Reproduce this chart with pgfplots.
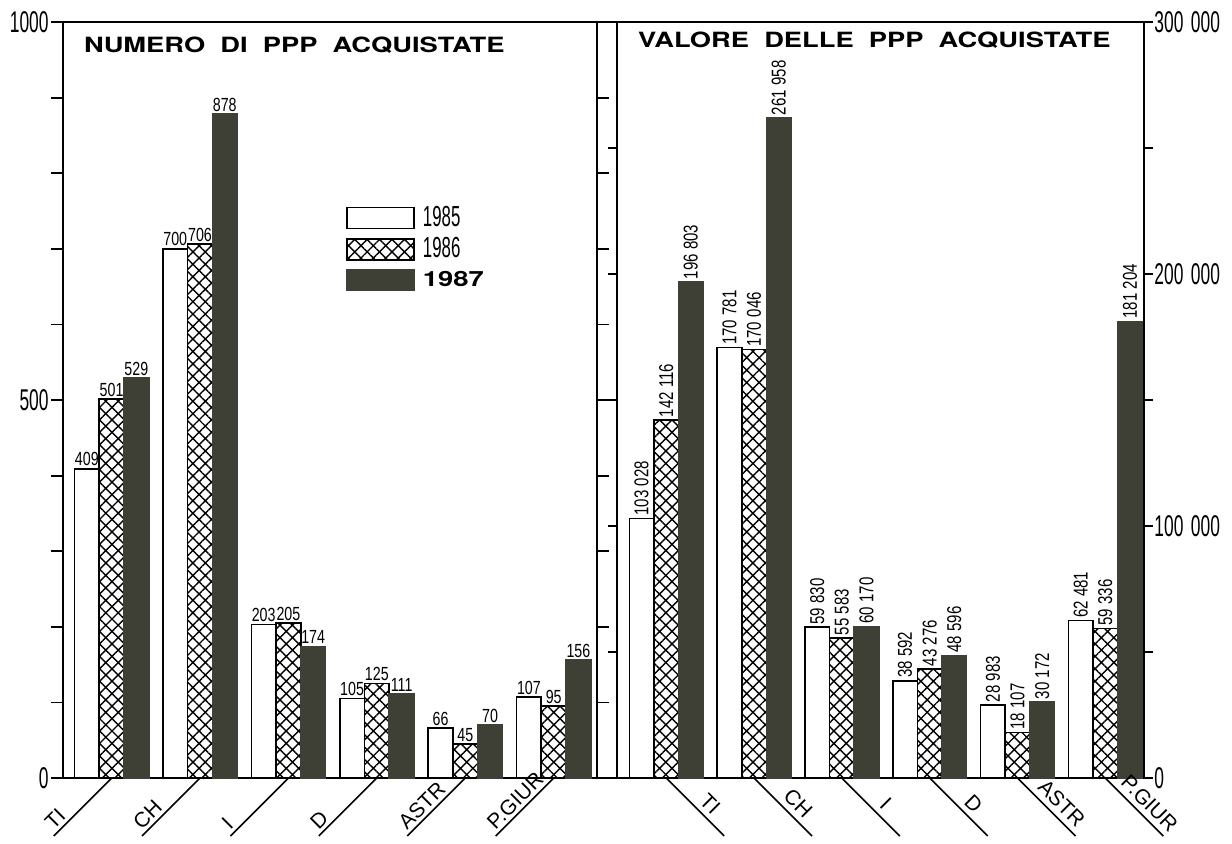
\documentclass[border=0pt]{standalone}
\usepackage{fontspec}
\usepackage{pgfplots}
\pgfplotsset{compat=1.18}
\usetikzlibrary{patterns.meta}
\setmainfont{Liberation Sans}
\newfontfamily\condfam[FakeStretch=0.58]{Liberation Sans}
\newfontfamily\valfam[FakeStretch=0.75]{Liberation Sans}
\newfontfamily\titlefam[FakeStretch=1.3,WordSpace=2]{TeX Gyre Heros}
\newcommand\tickfont{\condfam\fontsize{15}{15}\selectfont}
\newcommand\legfont{\condfam\fontsize{14.5}{14.5}\selectfont}
\newcommand\valfont{\valfam\fontsize{9.5}{10}\selectfont}
\newcommand\valfontR{\valfam\fontsize{10}{11}\selectfont}
\newcommand\titlefont{\titlefam\bfseries\fontsize{10.5}{12}\selectfont}
\newcommand\catfont{\fontsize{10.5}{12}\selectfont}
\definecolor{darkbar}{RGB}{62,64,54}

\tikzset{
  catL/.style={line width=0.8pt},
  catLn/.style={pos=1, rotate=45, anchor=south west, inner sep=1.5pt, font=\catfont},
  catRn/.style={pos=0.6, rotate=-45, anchor=south, inner sep=2.5pt, font=\catfont},
}

\pgfplotsset{
  /pgf/number format/assume math mode=true,
  mylegend/.style={legend image code/.code={\draw[##1] (0pt,-5.25pt) rectangle (33.5pt,5.25pt);}},
  s85/.style={fill=white, draw=black, line width=0.8pt, mylegend},
  s86/.style={pattern={Hatch[angle=45,distance=4.4pt,line width=0.7pt]}, draw=black, line width=0.8pt, mylegend},
  s87/.style={fill=darkbar, draw=darkbar, line width=0.8pt, mylegend},
  panel/.style={
    scale only axis, height=378pt, ymin=0, ybar=0pt, bar width=0.28, clip=false,
    axis line style={line width=0.9pt},
    xtick={0,...,5}, xticklabels={},
    xtick style={draw=none},
    ytick align=outside, ytick pos=both,
    major tick length=6pt, minor tick length=6pt,
    ytick style={line width=0.9pt, black},
    minor y tick style={line width=0.9pt, black},
    yticklabel style={font=\tickfont, inner sep=1pt},
    scaled y ticks=false,
    /pgf/number format/fixed,
  },
}

\begin{document}
\begin{tikzpicture}
\useasboundingbox (-31.5pt,-32.5pt) rectangle (584.5pt,389pt);

% ---------- left panel ----------
\begin{axis}[panel, at={(0pt,0pt)}, anchor=south west, width=267pt,
  xmin=-0.55, xmax=5.49, ymax=1000,
  ytick={0,500,1000}, minor ytick={100,200,300,400,600,700,800,900},
  yticklabel pos=left,
  /pgf/number format/1000 sep={},
  nodes near coords,
  every node near coord/.append style={font=\valfont, inner sep=1pt},
  legend style={at={(rel axis cs:0.5187,0.762)}, anchor=north west, draw=none, fill=none,
    row sep=4pt, nodes={inner sep=0pt}, /tikz/every odd column/.append style={column sep=4pt}},
  legend cell align=left,
]
\addplot[s85] coordinates {(0,409) (1,700) (2,203) (3,105) (4,66) (5,107)};
\addlegendentry{\legfont 1985}
\addplot[s86] coordinates {(0,501) (1,706) (2,205) (3,125) (4,45) (5,95)};
\addlegendentry{\legfont 1986}
\addplot[s87] coordinates {(0,529) (1,878) (2,174) (3,111) (4,70) (5,156)};
\addlegendentry{\titlefont 1987}
\draw[catL] (axis cs:0,0) -- ++(-135:41pt) node[catLn] {TI};
\draw[catL] (axis cs:1,0) -- ++(-135:41pt) node[catLn] {CH};
\draw[catL] (axis cs:2,0) -- ++(-135:41pt) node[catLn] {I};
\draw[catL] (axis cs:3,0) -- ++(-135:41pt) node[catLn] {D};
\draw[catL] (axis cs:4,0) -- ++(-135:41pt) node[catLn] {ASTR};
\draw[catL] (axis cs:5,0) -- ++(-135:41pt) node[catLn] {P.GIUR};
\node[anchor=base west, font=\titlefont] at ([xshift=7pt,yshift=-15pt]rel axis cs:0,1) {NUMERO DI PPP ACQUISTATE};
\end{axis}

% ---------- right panel ----------
\begin{axis}[panel, at={(277pt,0pt)}, anchor=south west, width=263.5pt,
  xmin=-0.56, xmax=5.44, ymax=300000,
  ytick={0,100000,200000,300000}, minor ytick={50000,150000,250000},
  yticklabel pos=right,
  major tick length=4.5pt, minor tick length=4.5pt,
  yticklabel style={inner sep=0.5pt},
  /pgf/number format/1000 sep={\hspace{0.25em}},
  nodes near coords={\pgfmathprintnumber[fixed,1000 sep={\hspace{0.22em}}]{\pgfplotspointmeta}},
  every node near coord/.append style={font=\valfontR, inner sep=1pt, rotate=90, anchor=west},
]
\addplot[s85] coordinates {(0,103028) (1,170781) (2,59830) (3,38592) (4,28983) (5,62481)};
\addplot[s86] coordinates {(0,142116) (1,170046) (2,55583) (3,43276) (4,18107) (5,59336)};
\addplot[s87] coordinates {(0,196803) (1,261958) (2,60170) (3,48596) (4,30172) (5,181204)};
\draw[catL] (axis cs:0,0) -- ++(-45:41pt) node[catRn] {TI};
\draw[catL] (axis cs:1,0) -- ++(-45:41pt) node[catRn] {CH};
\draw[catL] (axis cs:2,0) -- ++(-45:41pt) node[catRn] {I};
\draw[catL] (axis cs:3,0) -- ++(-45:41pt) node[catRn] {D};
\draw[catL] (axis cs:4,0) -- ++(-45:41pt) node[catRn] {ASTR};
\draw[catL] (axis cs:5,0) -- ++(-45:41pt) node[catRn] {P.GIUR};
\node[anchor=base west, font=\titlefont] at ([xshift=7pt,yshift=-12.5pt]rel axis cs:0,1) {VALORE DELLE PPP ACQUISTATE};
\end{axis}
\end{tikzpicture}
\end{document}
